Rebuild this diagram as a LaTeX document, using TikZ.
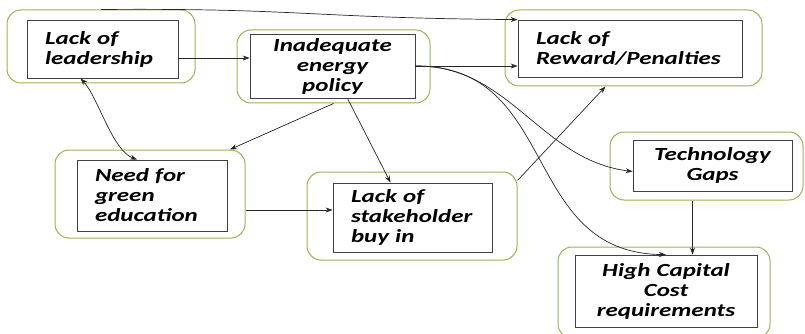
\documentclass[tikz,border=0pt]{standalone}
\usepackage{fontspec}
\setmainfont{Carlito}[FakeStretch=1.35]
\usetikzlibrary{arrows.meta}

\definecolor{boxgreen}{RGB}{150,180,80}
\tikzset{
  outerbox/.style={draw=boxgreen, line width=1pt, rounded corners=14pt},
  innerbox/.style={draw=black!75, line width=0.8pt, inner xsep=18pt, inner ysep=0pt,
    align=left, font=\fontsize{18.5}{20}\selectfont\bfseries\itshape},
  midbox/.style={innerbox, inner xsep=6pt, align=center},
  arr/.style={-{Stealth[length=7pt,width=5pt]}, line width=0.7pt, black!85}
}

\begin{document}
\begin{tikzpicture}[x=1pt,y=-1pt]
                \useasboundingbox (0,0) rectangle (805,334);
                % Outer green frames
                \node[outerbox, minimum width=188pt, minimum height=73pt] (leadO) at (101,46.5) {};
                \node[outerbox, minimum width=193pt, minimum height=73pt] (policyO) at (333.5,66.5) {};
                \node[outerbox, minimum width=257pt, minimum height=76pt] (rewardO) at (633.5,48) {};
                \node[outerbox, minimum width=190pt, minimum height=88pt] (needO) at (150,194) {};
                \node[outerbox, minimum width=210pt, minimum height=88pt] (stakeO) at (412,216) {};
                \node[outerbox, minimum width=193pt, minimum height=68pt] (techO) at (706.5,166) {};
                \node[outerbox, minimum width=212pt, minimum height=91pt] (capO) at (664,292.5) {};
                % Inner boxes with the factors
                \node[innerbox, minimum width=151pt, minimum height=58pt, text width=115pt] (lead) at (102.5,49) {Lack of\\leadership};
                \node[midbox, minimum width=165pt, minimum height=64pt, text width=153pt] (policy) at (332.5,66) {Inadequate\\energy\\policy};
                \node[innerbox, minimum width=224pt, minimum height=57pt, text width=188pt] (reward) at (630,48.5) {Lack of\\Reward/Penalties};
                \node[innerbox, minimum width=150pt, minimum height=71pt, text width=114pt] (need) at (152,195.5) {Need for\\green\\education};
                \node[innerbox, minimum width=159pt, minimum height=69pt, text width=123pt] (stake) at (412.5,217.5) {Lack of\\stakeholder\\buy in};
                \node[midbox, minimum width=159pt, minimum height=51pt, text width=147pt] (tech) at (712.5,165.5) {Technology\\Gaps};
                \node[midbox, minimum width=182pt, minimum height=72pt, text width=170pt] (cap) at (666,291) {High Capital\\Cost\\requirements};
                % Links between the factors
                \draw[arr] ([yshift=-9pt]lead.east) coordinate (lp) -- (lp -| policy.west);
                \draw[arr] (leadO.north) .. controls (300,8) and (310,18) .. (reward.north west);
                \draw[arr] (policy.east) -- (policy.east -| reward.west);
                \draw[arr] (policy.east) .. controls (510,65) and (540,160) .. ([yshift=-6pt]tech.west);
                \draw[arr] (policy.east) .. controls (560,65) and (520,253) .. (cap.north);
                \draw[arr] (policyO.south) -- ([xshift=80pt]needO.north);
                \draw[arr] ([xshift=15pt]policy.south) -- ([xshift=-22pt]stake.north);
                \draw[arr, {Stealth[length=7pt,width=5pt]}-{Stealth[length=7pt,width=5pt]}] ([xshift=-22pt]lead.south) .. controls (98,97) and (112,150) .. ([xshift=-15pt]need.north);
                \coordinate (ns) at ([yshift=7.5pt]stake.west);
                \draw[arr] (needO.east |- ns) -- (ns);
                \draw[arr] ([yshift=-9pt]stakeO.north east) -- ([xshift=-28pt]rewardO.south);
                \draw[arr] ([xshift=-14pt]techO.south) coordinate (tc) -- (tc |- cap.north);
\end{tikzpicture}
\end{document}
